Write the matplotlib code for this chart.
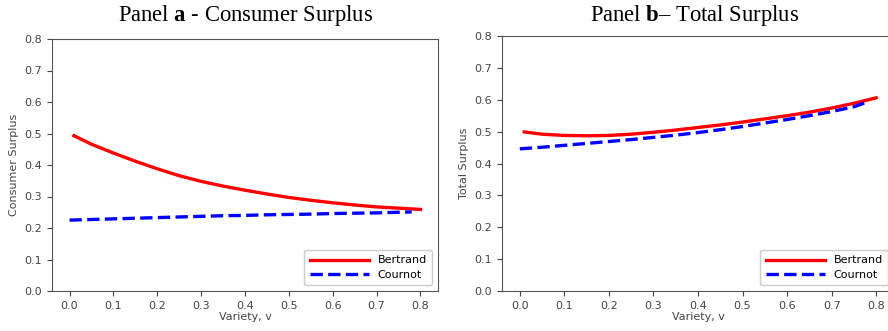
import matplotlib.pyplot as plt

# Datos
v_bertrand = [0.01, 0.05, 0.1, 0.15, 0.2, 0.25, 0.3, 0.35, 0.4, 0.45,
              0.5, 0.55, 0.6, 0.65, 0.7, 0.75, 0.8]
cs_bertrand = [0.493, 0.466, 0.438, 0.412, 0.388, 0.366, 0.348, 0.333, 0.320, 0.308,
               0.297, 0.288, 0.280, 0.273, 0.267, 0.263, 0.259]
ts_bertrand = [0.499, 0.492, 0.488, 0.487, 0.488, 0.492, 0.498, 0.505, 0.513, 0.521,
               0.530, 0.540, 0.550, 0.561, 0.574, 0.589, 0.606]

v_cournot = [0.0, 0.05, 0.1, 0.15, 0.2, 0.25, 0.3, 0.35, 0.4, 0.45,
             0.5, 0.55, 0.6, 0.65, 0.7, 0.75, 0.78]
cs_cournot = [0.225, 0.227, 0.229, 0.231, 0.233, 0.235, 0.237, 0.239, 0.240, 0.242,
              0.243, 0.244, 0.246, 0.247, 0.248, 0.250, 0.251]
ts_cournot = [0.446, 0.451, 0.457, 0.463, 0.469, 0.475, 0.482, 0.489, 0.497, 0.506,
              0.516, 0.527, 0.538, 0.550, 0.563, 0.578, 0.593]

x_ticks = [0.0, 0.1, 0.2, 0.3, 0.4, 0.5, 0.6, 0.7, 0.8]
y_ticks = [0.0, 0.1, 0.2, 0.3, 0.4, 0.5, 0.6, 0.7, 0.8]

plt.rcParams['font.size'] = 8
plt.rcParams['mathtext.fontset'] = 'custom'
plt.rcParams['mathtext.bf'] = 'Liberation Serif:bold'
plt.rcParams['mathtext.rm'] = 'Liberation Serif'

W, H = 888, 331
fig = plt.figure(figsize=(W / 100, H / 100), dpi=100)

# Posiciones de los paneles (en píxeles)
ax_a = fig.add_axes([52 / W, 1 - 291 / H, 386 / W, 252 / H])
ax_b = fig.add_axes([502 / W, 1 - 291 / H, 392 / W, 255 / H])

paneles = [
    (ax_a, cs_bertrand, cs_cournot, 'Consumer Surplus'),
    (ax_b, ts_bertrand, ts_cournot, 'Total Surplus'),
]

for ax, yb, yc, ylabel in paneles:
    ax.plot(v_bertrand, yb, color='red', lw=2.4, label='Bertrand')
    ax.plot(v_cournot, yc, color='blue', lw=2.4, ls='--', label='Cournot')
    ax.set_xlim(-0.04, 0.84)
    ax.set_ylim(0, 0.8)
    ax.set_xticks(x_ticks)
    ax.set_yticks(y_ticks)
    ax.set_xlabel('Variety, v', color='#444444', labelpad=1)
    ax.set_ylabel(ylabel, color='#444444', labelpad=4)
    ax.tick_params(colors='#444444', labelsize=8, length=3.5)
    for s in ax.spines.values():
        s.set_color('#555555')
    ax.legend(loc='lower right', fontsize=8, handlelength=5.3, borderpad=0.5,
              labelspacing=0.4, framealpha=1, edgecolor='#cccccc')

# Títulos con la letra del panel en negrita
fig.text(246 / W, 1 - 16 / H, 'Panel $\\mathbf{a}$ - Consumer Surplus',
         ha='center', va='center', family='Liberation Serif', fontsize=16.3)
fig.text(695 / W, 1 - 16 / H, 'Panel $\\mathbf{b}$\u2013 Total Surplus',
         ha='center', va='center', family='Liberation Serif', fontsize=16.3)

fig.savefig('out.png', dpi=100)
